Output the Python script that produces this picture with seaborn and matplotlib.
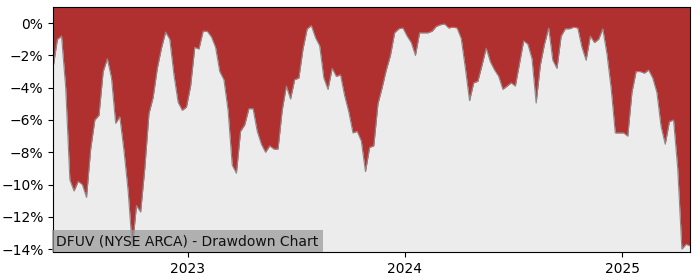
import numpy as np
import pandas as pd
import matplotlib
matplotlib.use("Agg")
import matplotlib.pyplot as plt
import matplotlib.dates as mdates
from matplotlib.ticker import FuncFormatter
import seaborn as sns

# Weekly drawdown (%) of DFUV
week_start = "2022-05-20"
week_end = "2025-04-25"
drawdown_pct = [
    -2.7, -1.0, -0.8, -4.0, -9.7, -10.4, -9.8, -10.0, -10.8, -7.8,
    -6.0, -5.7, -3.0, -2.2, -3.4, -6.2, -5.8, -7.9, -10.4, -13.9,
    -11.3, -11.7, -9.0, -5.6, -4.6, -2.8, -1.55, -0.55, -1.0, -3.2,
    -4.9, -5.4, -5.2, -3.9, -1.5, -1.6, -0.5, -0.5, -0.85, -1.5,
    -3.0, -3.5, -5.4, -8.8, -9.3, -6.7, -6.3, -5.3, -5.3, -6.7,
    -7.5, -8.0, -7.6, -7.8, -7.8, -5.4, -3.9, -4.7, -3.5, -3.4,
    -1.6, -0.35, -0.15, -0.9, -1.4, -3.4, -4.1, -2.8, -3.3, -3.2,
    -4.5, -5.5, -6.8, -6.7, -7.3, -9.2, -7.7, -7.6, -5.0, -4.0,
    -2.9, -2.0, -0.6, -0.35, -0.3, -0.8, -1.2, -2.0, -0.6, -0.6,
    -0.6, -0.5, -0.2, -0.1, -0.05, -0.3, -0.25, -0.3, -0.95, -2.8,
    -4.8, -3.7, -3.6, -2.6, -1.55, -2.4, -2.9, -3.3, -4.1, -3.9,
    -3.7, -3.9, -2.5, -1.1, -1.3, -2.2, -4.95, -2.6, -1.3, -0.3,
    -2.3, -2.8, -0.8, -0.35, -0.35, -0.25, -0.3, -1.5, -2.3, -0.8,
    -1.2, -1.0, -0.35, -1.9, -4.0, -6.8, -6.8, -6.8, -7.0, -4.3,
    -3.0, -3.0, -3.1, -2.9, -3.4, -4.3, -6.4, -7.5, -6.1, -6.0,
    -9.0, -14.0, -13.7, -13.8,
]
y_ticks = [0, -2, -4, -6, -8, -10, -12, -14]
label_text = "DFUV (NYSE ARCA) - Drawdown Chart"

dates = pd.date_range(week_start, week_end, freq="W-FRI")
df = pd.DataFrame({"date": dates[:len(drawdown_pct)], "dd": drawdown_pct})

fig = plt.figure(figsize=(7, 2.8), dpi=100)
ax = fig.add_axes([0.076, 0.1, 0.91, 0.875])

red = "#b03030"
light = "#ececec"
ymin, ymax = -14.18, 1.0

ax.set_facecolor(red)
ax.fill_between(df["date"], df["dd"], ymin, color=light, linewidth=0)
sns.lineplot(data=df, x="date", y="dd", ax=ax, color="#8a8a8a", linewidth=0.8)

ax.set_xlim(df["date"].iloc[0], df["date"].iloc[-1])
ax.set_ylim(ymin, ymax)
ax.set_yticks(y_ticks)
ax.yaxis.set_major_formatter(FuncFormatter(lambda v, p: f"{int(round(v))}%".replace("-", "\u2212")))
ax.xaxis.set_major_locator(mdates.YearLocator())
ax.xaxis.set_major_formatter(mdates.DateFormatter("%Y"))
ax.set_xlabel("")
ax.set_ylabel("")
ax.tick_params(labelsize=10)

ax.text(0.005, 0.015, label_text, transform=ax.transAxes, fontsize=10,
        ha="left", va="bottom", color="#111111",
        bbox=dict(facecolor="#999999", alpha=0.72, edgecolor="none", pad=3))

fig.savefig("out.png", dpi=100)
